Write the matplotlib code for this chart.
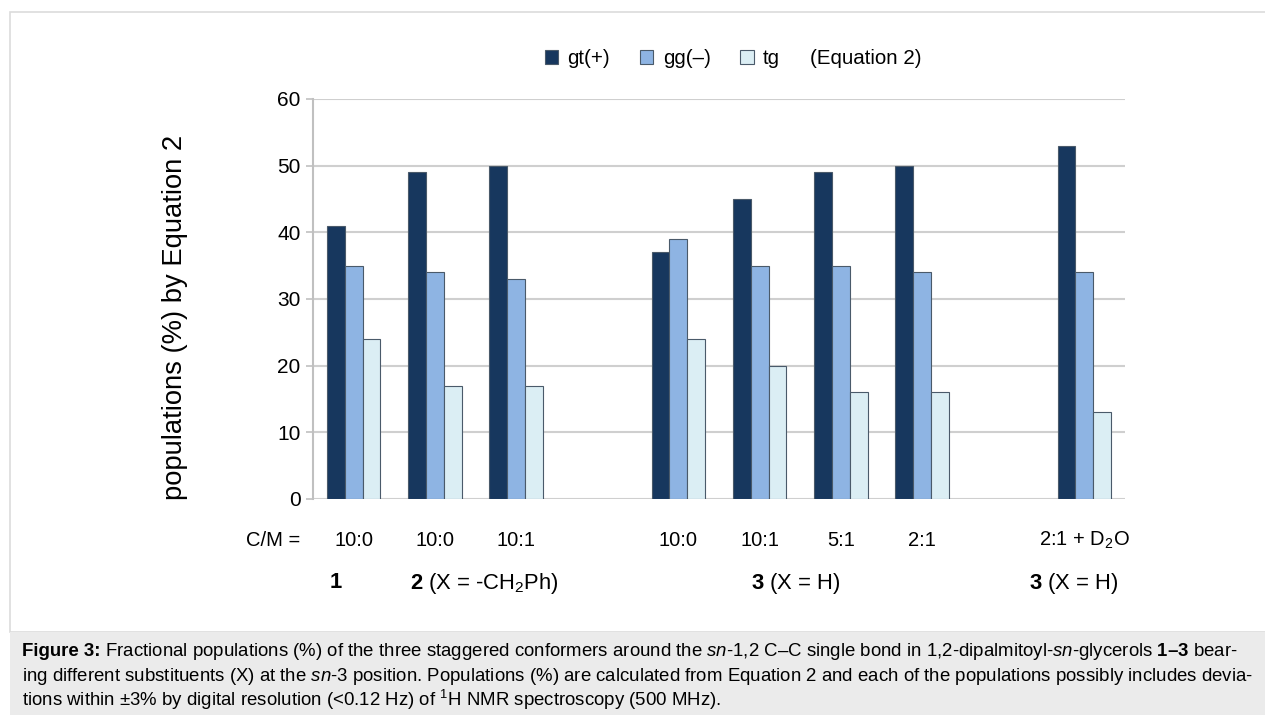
import numpy as np
import matplotlib
matplotlib.use('Agg')
import matplotlib.pyplot as plt
from matplotlib.patches import Patch, Rectangle

plt.rcParams['font.family'] = ['Liberation Sans', 'DejaVu Sans']
plt.rcParams['mathtext.fontset'] = 'custom'
plt.rcParams['mathtext.rm'] = 'Liberation Sans'
plt.rcParams['mathtext.it'] = 'Liberation Sans:italic'
plt.rcParams['mathtext.bf'] = 'Liberation Sans:bold'

# data (nan = empty slot between compound groups)
cm_labels = ['10:0', '10:0', '10:1', '', '10:0', '10:1', '5:1', '2:1', '', '2:1 + D$_2$O']
gt = [41, 49, 50, np.nan, 37, 45, 49, 50, np.nan, 53]
gg = [35, 34, 33, np.nan, 39, 35, 35, 34, np.nan, 34]
tg = [24, 17, 17, np.nan, 24, 20, 16, 16, np.nan, 13]
series_names = ['gt(+)', 'gg(\u2013)', 'tg']
colors = ['#17375e', '#8eb4e3', '#dbeef4']

fig = plt.figure(figsize=(12.65, 7.15), dpi=100)

# outer frame and caption box
fig.patches.append(Rectangle((10/1265, 83/715), 1.0, 620/715, transform=fig.transFigure,
                             facecolor='white', edgecolor='#dcdcdc', lw=1.2, zorder=-2))
fig.patches.append(Rectangle((10/1265, 0), 1.0, 83/715, transform=fig.transFigure,
                             facecolor='#ebebeb', edgecolor='none', zorder=-2))

ax = fig.add_axes([313/1265, 1 - 499/715, 812/1265, 400/715])
ax.patch.set_alpha(0)
x = np.arange(len(cm_labels))
w = 0.22
for i, (vals, c) in enumerate(zip([gt, gg, tg], colors)):
    ax.bar(x + (i - 1) * w, vals, width=w, color=c, edgecolor='#4a5a6a', linewidth=0.8, zorder=3)

ax.set_xlim(-0.5, len(cm_labels) - 0.5)
ax.set_ylim(0, 60)
ax.set_yticks(range(0, 61, 10))
ax.yaxis.grid(True, color='#cfcfcf', linewidth=1.5, zorder=0)
ax.set_axisbelow(True)
for s in ['top', 'right', 'bottom']:
    ax.spines[s].set_visible(False)
ax.spines['left'].set_color('#c0c0c0')
ax.spines['left'].set_linewidth(1.5)
ax.set_xticks([])
ax.tick_params(axis='y', length=5, width=1.2, color='#c0c0c0', pad=4, labelsize=15)

# C/M row
trans = ax.get_xaxis_transform()
for xi, lab in zip(x, cm_labels):
    ax.text(xi, -0.1025, lab, transform=trans, ha='center', va='center', fontsize=14.5)
ax.text(-0.66, -0.1025, 'C/M =', transform=trans, ha='right', va='center', fontsize=14.5)

# compound row
ax.text(-0.22, -0.21, r'$\mathbf{1}$', transform=trans, ha='center', va='center', fontsize=15.8)
ax.text(0.69, -0.21, r'$\mathbf{2}$ (X = -CH$_2$Ph)', transform=trans, ha='left', va='center', fontsize=15.8)
ax.text(4.90, -0.21, r'$\mathbf{3}$ (X = H)', transform=trans, ha='left', va='center', fontsize=15.8)
ax.text(8.32, -0.21, r'$\mathbf{3}$ (X = H)', transform=trans, ha='left', va='center', fontsize=15.8)

fig.text(175/1265, 1 - 317/715, 'populations (%) by Equation 2', rotation=90, ha='center', va='center', fontsize=19.7)

handles = [Patch(facecolor=c, edgecolor='#4a5a6a', linewidth=0.8) for c in colors]
fig.legend(handles, series_names, loc='center left', bbox_to_anchor=(545/1265, 1 - 59/715),
           ncol=3, frameon=False, fontsize=14.8, handlelength=0.65, handleheight=0.65,
           handletextpad=0.45, columnspacing=1.45, borderpad=0, borderaxespad=0)
fig.text(810/1265, 1 - 59/715, '(Equation 2)', ha='left', va='center', fontsize=14.8)

# caption
cap = [
    r' Fractional populations (%) of the three staggered conformers around the $\mathit{sn}$-1,2 C' + '\u2013' + r'C single bond in 1,2-dipalmitoyl-$\mathit{sn}$-glycerols $\mathbf{1' + '\u2013' + r'3}$ bear-',
    r'ing different substituents (X) at the $\mathit{sn}$-3 position. Populations (%) are calculated from Equation 2 and each of the populations possibly includes devia-',
    r'tions within ±3% by digital resolution (<0.12 Hz) of $^1$H NMR spectroscopy (500 MHz).',
]
y0 = 1 - 656/715
head = fig.text(22/1265, y0, 'Figure 3:', ha='left', va='baseline', fontsize=13.4, fontweight='bold')
fig.canvas.draw()
hb = head.get_window_extent()
fig.text(hb.x1 / fig.bbox.width, y0, cap[0], ha='left', va='baseline', fontsize=13.4)
for k, line in enumerate(cap[1:], start=1):
    fig.text(22/1265, 1 - (656 + 25 * k)/715, line, ha='left', va='baseline', fontsize=13.4)

fig.savefig('out.png', dpi=100)
